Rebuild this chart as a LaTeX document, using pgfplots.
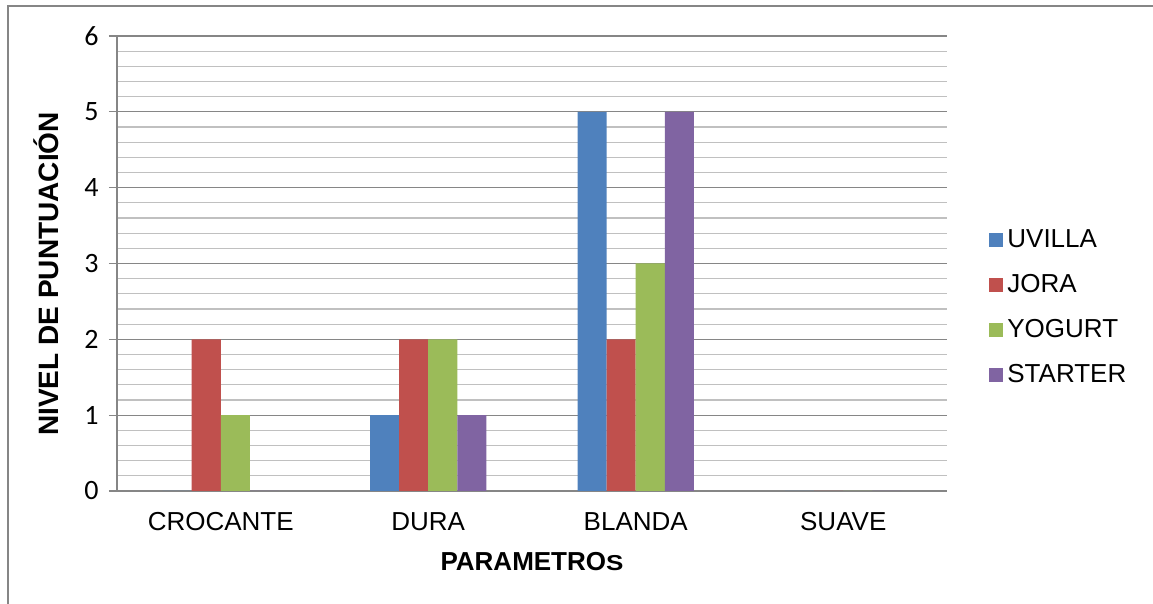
\documentclass[border=0pt]{standalone}
\usepackage{fontspec}
\setmainfont{Liberation Sans}
\newfontfamily\carlito{Carlito}
\usepackage{graphicx}
\usepackage{pgfplots}
\pgfplotsset{compat=1.18}
\definecolor{cA}{HTML}{4F81BD}
\definecolor{cB}{HTML}{C0504D}
\definecolor{cC}{HTML}{9BBB59}
\definecolor{cD}{HTML}{8064A2}
\definecolor{gridmaj}{HTML}{868686}
\definecolor{gridmin}{HTML}{C0C0C0}
\begin{document}
\begin{tikzpicture}
\useasboundingbox (0,0) rectangle (576.5pt,302pt);
\draw[gridmaj, line width=0.75pt] (4pt,0pt) -- (4pt,299pt) -- (576.5pt,299pt);
\begin{axis}[
 at={(58.5pt,56.5pt)}, anchor=south west,
 scale only axis, width=415pt, height=227.5pt,
 xmin=-0.5, xmax=3.5, ymin=0, ymax=6,
 ybar=0pt, bar width=0.14,
 xtick={0,1,2,3}, xticklabels={CROCANTE,DURA,BLANDA,SUAVE},
 xtick style={draw=none},
 xticklabel style={anchor=center, yshift=-11.5pt, font=\fontsize{13}{15}\selectfont},
 ytick={0,1,2,3,4,5,6}, minor y tick num=4,
 ymajorgrids, yminorgrids,
 major grid style={draw=gridmaj, line width=0.6pt},
 minor grid style={draw=gridmin, line width=0.6pt},
 axis x line*=bottom, axis y line*=left,
 axis line style={draw=gridmaj, line width=0.75pt, -},
 ytick style={draw=gridmaj, line width=0.6pt},
 tick align=outside, major tick length=4pt, minor tick length=0pt,
 yticklabel style={font=\carlito\fontsize{14}{16}\selectfont, anchor=east, inner sep=0pt, xshift=-5pt},
 /pgf/number format/assume math mode=true,
 xlabel={PARAMETRO\scalebox{1}[0.83]{S}},
 xlabel style={at={(axis description cs:0.5,-0.154)}, anchor=center, font=\bfseries\fontsize{13}{15}\selectfont},
 ylabel={NIVEL DE PUNTUACIÓN},
 ylabel style={at={(axis description cs:-0.0855,0.477)}, anchor=center, font=\bfseries\fontsize{14}{16}\selectfont},
 legend style={draw=none, fill=none, at={(1.0506,0.403)}, anchor=west, font=\fontsize{13}{15}\selectfont, inner sep=0pt, row sep=8pt},
 legend cell align=left,
 legend image code/.code={\fill[#1] (0pt,-3.5pt) rectangle (7pt,3.5pt);},
]
\addplot[fill=cA, draw=none] coordinates {(0,0) (1,1) (2,5) (3,0)};
\addplot[fill=cB, draw=none] coordinates {(0,2) (1,2) (2,2) (3,0)};
\addplot[fill=cC, draw=none] coordinates {(0,1) (1,2) (2,3) (3,0)};
\addplot[fill=cD, draw=none] coordinates {(0,0) (1,1) (2,5) (3,0)};
\legend{UVILLA,JORA,YOGURT,STARTER}
\end{axis}
\end{tikzpicture}
\end{document}
